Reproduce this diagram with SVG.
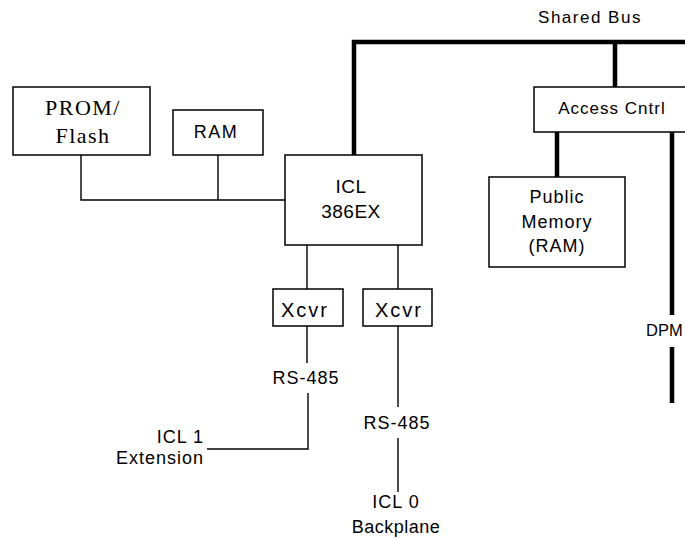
<svg xmlns="http://www.w3.org/2000/svg" width="685" height="538" viewBox="0 0 685 538">
<style>
.box{fill:#fff;stroke:#000;stroke-width:1.5}
.thin{fill:none;stroke:#000;stroke-width:1.4}
.thick{fill:none;stroke:#000;stroke-width:4.5}
text{font-family:"Liberation Sans",Arial,sans-serif;font-size:18px;fill:#000;letter-spacing:1px}
.serif{font-family:"Liberation Serif","Times New Roman",serif;font-size:22px;letter-spacing:1.5px}
.c{text-anchor:middle}
.x{font-size:20px;letter-spacing:2px}
</style>
<rect width="685" height="538" fill="#fff"/>
<g id="connectors">
<polyline class="thick" points="354,155 354,42 685,42"/>
<line class="thick" x1="615" y1="42" x2="615" y2="87"/>
<line class="thick" x1="557" y1="132" x2="557" y2="177"/>
<line class="thick" x1="672" y1="132" x2="672" y2="315"/>
<line class="thick" x1="672" y1="347" x2="672" y2="403"/>
<polyline class="thin" points="81,155 81,200 285,200"/>
<line class="thin" x1="218" y1="155" x2="218" y2="200"/>
<line class="thin" x1="307" y1="245" x2="307" y2="289"/>
<line class="thin" x1="398" y1="245" x2="398" y2="289"/>
<line class="thin" x1="307" y1="326" x2="307" y2="363"/>
<polyline class="thin" points="308,393 308,449 207,449"/>
<line class="thin" x1="398" y1="326" x2="398" y2="407"/>
<line class="thin" x1="398" y1="438" x2="398" y2="492"/>
</g>
<g id="shared-bus-label"><text x="590" y="23" class="c" style="font-size:17px;letter-spacing:1.5px">Shared Bus</text></g>
<g id="prom-flash">
<rect class="box" x="13" y="87" width="137" height="68"/>
<text class="serif c" x="83" y="115">PROM/</text>
<text class="serif c" x="83" y="143">Flash</text>
</g>
<g id="ram">
<rect class="box" x="173" y="110" width="90" height="45"/>
<text class="c" x="216" y="138" style="letter-spacing:1.5px">RAM</text>
</g>
<g id="icl-386ex">
<rect class="box" x="285" y="155" width="137" height="90"/>
<text class="c" x="351" y="193" style="font-size:19px;letter-spacing:0.5px">ICL</text>
<text class="c" x="351" y="218" style="font-size:19px;letter-spacing:0.5px">386EX</text>
</g>
<g id="access-cntrl">
<rect class="box" x="534" y="87" width="160" height="45"/>
<text class="c" x="612" y="114" style="font-size:17px">Access Cntrl</text>
</g>
<g id="public-memory">
<rect class="box" x="489" y="177" width="136" height="90"/>
<text class="c" x="557" y="203">Public</text>
<text class="c" x="557" y="228">Memory</text>
<text class="c" x="557" y="252">(RAM)</text>
</g>
<g id="dpm"><text x="646" y="336" style="font-size:16.5px;letter-spacing:0">DPM</text></g>
<g id="xcvr-1">
<rect class="box" x="273" y="289" width="70" height="37"/>
<text class="c x" x="305" y="317">Xcvr</text>
</g>
<g id="xcvr-0">
<rect class="box" x="363" y="289" width="69" height="37"/>
<text class="c x" x="399" y="317">Xcvr</text>
</g>
<g id="rs485-1"><text class="c" x="306" y="384">RS-485</text></g>
<g id="rs485-0"><text class="c" x="397" y="429">RS-485</text></g>
<g id="icl1-extension">
<text x="204" y="443" style="text-anchor:end">ICL 1</text>
<text x="204" y="464" style="text-anchor:end">Extension</text>
</g>
<g id="icl0-backplane">
<text class="c" x="396" y="508">ICL 0</text>
<text class="c" x="396" y="533" style="letter-spacing:0.5px">Backplane</text>
</g>
</svg>
